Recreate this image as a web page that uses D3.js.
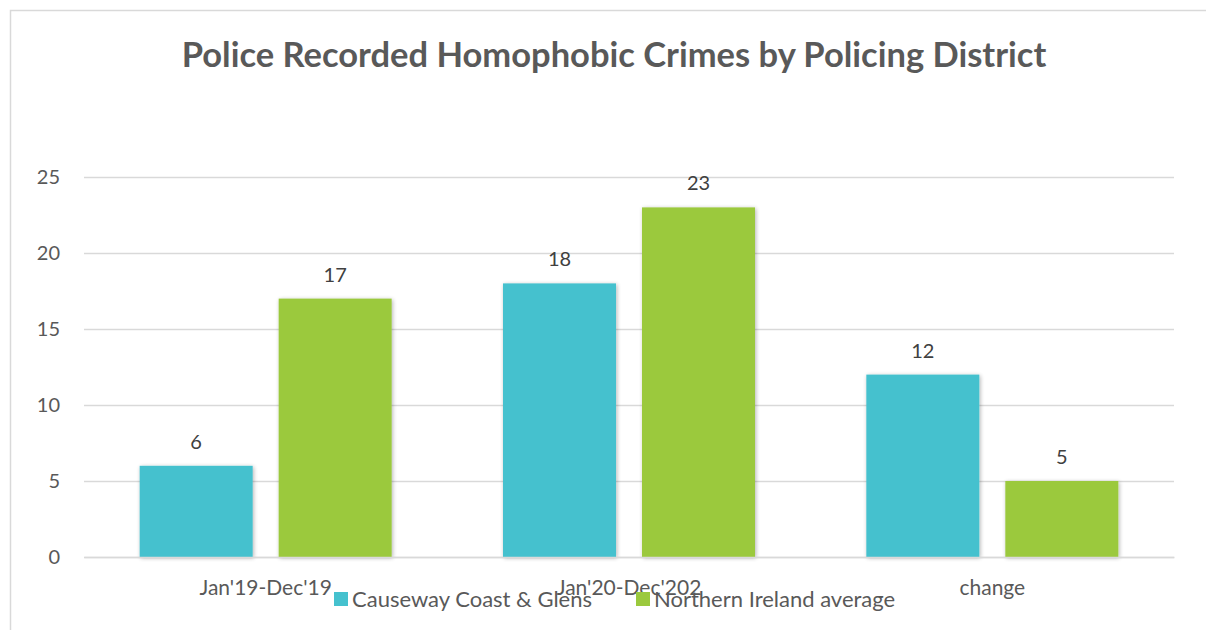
<!DOCTYPE html>
<html><head><meta charset="utf-8">
<script src="https://cdn.jsdelivr.net/npm/d3@7"></script>
<style>body{margin:0;background:#fff}svg{display:block}text{font-family:Lato,"Open Sans",sans-serif}</style>
</head><body><svg id="c" width="1206" height="630"></svg>
<script>
const categories = ["Jan'19-Dec'19", "Jan'20-Dec'202", "change"];
const seriesNames = ["Causeway Coast & Glens", "Northern Ireland average"];
const causeway = [6, 18, 12];
const niAverage = [17, 23, 5];
const yTicks = [0, 5, 10, 15, 20, 25];
const colors = ["#45C1CE", "#9BC93D"];

(function(){
const svg = d3.select("#c");
const defs = svg.append("defs");
const f = defs.append("filter").attr("id","sh").attr("x","-10%").attr("y","-10%").attr("width","130%").attr("height","130%");
f.append("feGaussianBlur").attr("in","SourceAlpha").attr("stdDeviation",2);
f.append("feOffset").attr("dx",1).attr("dy",1).attr("result","b");
f.append("feComponentTransfer").append("feFuncA").attr("type","linear").attr("slope",0.3);
const m = f.append("feMerge"); m.append("feMergeNode"); m.append("feMergeNode").attr("in","SourceGraphic");

svg.append("path").attr("d","M10.5,630 L10.5,10.5 L1206,10.5").attr("fill","none").attr("stroke","#d9d9d9").attr("stroke-width",1.5);

const pl = 84, pr = 1174, pt = 177, pb = 557;
const x0 = d3.scaleBand().domain(categories).range([pl, pr]);
const x1 = d3.scaleBand().domain([0,1]).range([0, 252]).paddingInner(0.187);
const y = d3.scaleLinear().domain([0, 25]).range([pb, pt]);

svg.append("text").attr("x", 614).attr("y", 67).attr("text-anchor","middle")
  .attr("font-size", 34.5).attr("font-weight","bold").attr("fill","#595959")
  .text("Police Recorded Homophobic Crimes by Policing District");

const yAxis = svg.append("g").attr("transform",`translate(${pl},0)`)
  .call(d3.axisLeft(y).tickValues(yTicks).tickSize(-(pr-pl)).tickPadding(24));
yAxis.select(".domain").remove();
yAxis.selectAll(".tick line").attr("stroke","#d9d9d9").attr("stroke-width",1.5);
yAxis.selectAll(".tick text").attr("font-size",20).attr("fill","#595959").attr("font-family","Lato, 'Open Sans', sans-serif");

const data = categories.map((c,i)=>({c, v:[causeway[i], niAverage[i]]}));
const grp = svg.append("g").selectAll("g").data(data).join("g")
  .attr("transform", d => `translate(${x0(d.c) + x0.bandwidth()/2 - 126},0)`);
grp.selectAll("rect").data(d=>d.v.map((v,k)=>({v,k}))).join("rect")
  .attr("x", d=>x1(d.k)).attr("width", x1.bandwidth())
  .attr("y", d=>y(d.v)).attr("height", d=>pb - y(d.v))
  .attr("fill", d=>colors[d.k]).attr("filter","url(#sh)");
grp.selectAll("text").data(d=>d.v.map((v,k)=>({v,k}))).join("text")
  .attr("x", d=>x1(d.k)+x1.bandwidth()/2).attr("y", d=>y(d.v)-17)
  .attr("text-anchor","middle").attr("font-size",20).attr("fill","#404040").text(d=>d.v);

const xAxis = svg.append("g").attr("transform",`translate(0,${pb})`)
  .call(d3.axisBottom(x0).tickSize(0).tickPadding(23));
xAxis.select(".domain").attr("stroke","#d9d9d9").attr("stroke-width",1.5);
xAxis.selectAll(".tick text").attr("font-size",21).attr("fill","#595959").attr("font-family","Lato, 'Open Sans', sans-serif");

const legX = [334, 636];
const leg = svg.append("g");
seriesNames.forEach((n,i)=>{
  leg.append("rect").attr("x",legX[i]).attr("y",592).attr("width",14).attr("height",14).attr("fill",colors[i]);
  leg.append("text").attr("x",legX[i]+18).attr("y",607).attr("font-size",22).attr("fill","#595959").text(n);
});
})();
</script></body></html>
